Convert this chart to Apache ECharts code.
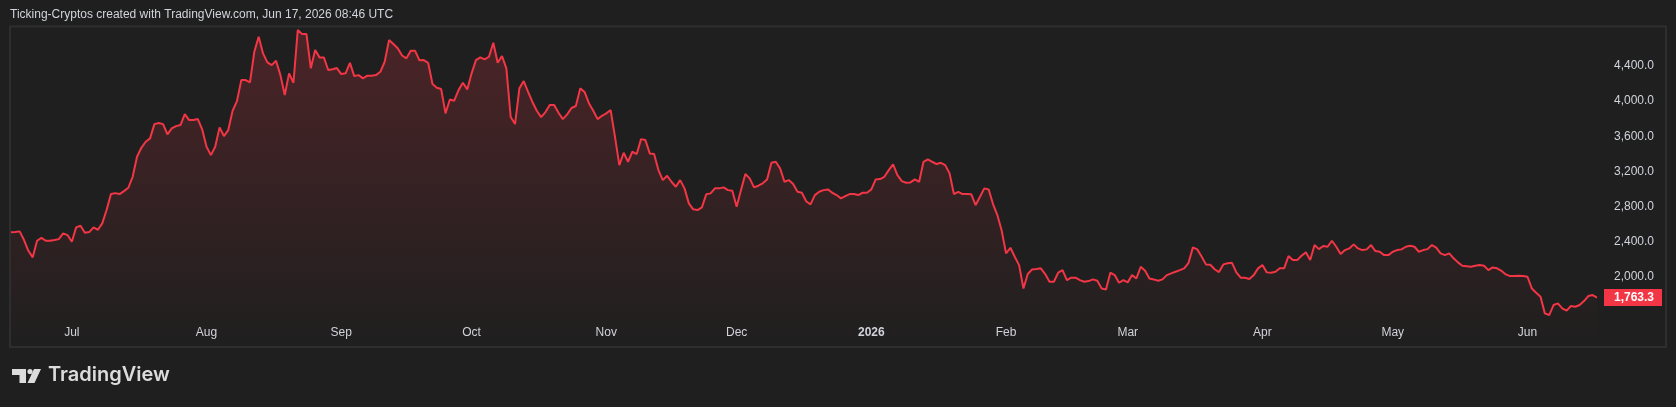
<!DOCTYPE html>
<html>
<head>
<meta charset="utf-8">
<script src="https://cdn.jsdelivr.net/npm/echarts@6/dist/echarts.min.js"></script>
<style>
  html, body { margin: 0; padding: 0; background: #1f1f1f; }
  #chart { width: 1676px; height: 407px; }
</style>
</head>
<body>
<div id="chart"></div>
<script>
// daily closes, Jun 17 2025 -> Jun 17 2026
const START_DATE = "2025-06-17";
const JUN_2025 = [2506, 2510, 2517, 2418, 2296, 2221, 2410, 2443, 2410, 2410, 2418, 2429, 2494, 2475];
const JUL_2025 = [2399, 2563, 2581, 2501, 2509, 2563, 2535, 2608, 2760, 2942, 2953, 2942, 2976, 3014, 3139, 3367,
  3469, 3538, 3576, 3739, 3751, 3739, 3622, 3690, 3716, 3728, 3853, 3785, 3785, 3796, 3679];
const AUG_2025 = [3481, 3386, 3481, 3702, 3603, 3671, 3891, 4001, 4240, 4240, 4214, 4563, 4734, 4544, 4442, 4411,
  4460, 4297, 4070, 4317, 4210, 4810, 4764, 4764, 4374, 4582, 4499, 4499, 4355, 4363, 4377];
const SEP_2025 = [4309, 4317, 4437, 4286, 4297, 4260, 4290, 4290, 4297, 4335, 4449, 4696, 4651, 4602, 4520, 4488,
  4574, 4574, 4465, 4468, 4437, 4195, 4153, 4138, 3861, 4020, 4005, 4126, 4210, 4134];
const OCT_2025 = [4317, 4468, 4499, 4476, 4506, 4665, 4437, 4514, 4374, 3819, 3739, 4146, 4229, 4105, 3991, 3891,
  3819, 3876, 3957, 3957, 3868, 3796, 3850, 3922, 3945, 4146, 4105, 3977, 3891, 3796, 3834];
const NOV_2025 = [3861, 3899, 3594, 3272, 3413, 3310, 3424, 3398, 3568, 3557, 3405, 3398, 3215, 3101, 3151, 3082,
  3025, 3101, 3007, 2836, 2768, 2760, 2790, 2939, 2950, 3007, 3007, 3018, 2987, 2980];
const DEC_2025 = [2797, 2987, 3170, 3121, 3018, 3037, 3064, 3109, 3298, 3310, 3235, 3082, 3101, 3056, 2968, 2957,
  2860, 2825, 2930, 2968, 2987, 2995, 2957, 2931, 2893, 2919, 2942, 2942, 2931, 2957, 2957];
const JAN_2026 = [2995, 3109, 3113, 3139, 3215, 3280, 3158, 3090, 3071, 3075, 3109, 3082, 3310, 3337, 3310, 3284,
  3298, 3272, 3178, 2942, 2968, 2942, 2942, 2939, 2817, 2911, 3007, 2995, 2828, 2703, 2524];
const FEB_2026 = [2267, 2330, 2228, 2133, 1867, 2031, 2084, 2088, 2096, 2031, 1943, 1943, 2046, 2076, 1962, 1989,
  1989, 1962, 1943, 1951, 1970, 1955, 1867, 1856, 2046, 2019, 1932, 1962];
const MAR_2026 = [1936, 2019, 1981, 2114, 2068, 1981, 1970, 1955, 1970, 2019, 2038, 2057, 2076, 2096, 2159, 2335,
  2312, 2230, 2141, 2137, 2086, 2053, 2141, 2153, 2159, 2050, 1989, 1989, 1974, 2019, 2096];
const APR_2026 = [2133, 2050, 2046, 2057, 2096, 2096, 2236, 2190, 2190, 2240, 2278, 2190, 2361, 2315, 2350, 2342,
  2410, 2342, 2259, 2304, 2323, 2369, 2323, 2304, 2312, 2361, 2293, 2285, 2247, 2247];
const MAY_2026 = [2285, 2304, 2312, 2342, 2354, 2342, 2285, 2304, 2315, 2361, 2331, 2267, 2247, 2267, 2210, 2164,
  2125, 2121, 2114, 2125, 2133, 2125, 2076, 2106, 2096, 2068, 2027, 2008, 2008, 2012, 2008];
const JUN_2026 = [2000, 1867, 1818, 1772, 1583, 1564, 1678, 1697, 1640, 1614, 1667, 1659, 1678, 1723, 1780, 1792, 1763.3];

const MONTH_LABELS = ["Jan", "Feb", "Mar", "Apr", "May", "Jun", "Jul", "Aug", "Sep", "Oct", "Nov", "Dec"];
const PRICE_TICKS = [2000, 2400, 2800, 3200, 3600, 4000, 4400];

const prices = [].concat(JUN_2025, JUL_2025, AUG_2025, SEP_2025, OCT_2025, NOV_2025, DEC_2025,
  JAN_2026, FEB_2026, MAR_2026, APR_2026, MAY_2026, JUN_2026);

const dates = [];
const t0 = new Date(START_DATE + "T00:00:00Z");
for (let i = 0; i < prices.length; i++) {
  const d = new Date(t0.getTime() + i * 86400000);
  dates.push(d.toISOString().slice(0, 10));
}
const lastPrice = prices[prices.length - 1];

const fmt = (v) => v.toLocaleString("en-US", { minimumFractionDigits: 1, maximumFractionDigits: 1 });

var myChart = echarts.init(document.getElementById("chart"), null, { renderer: "canvas" });
var option = {
  backgroundColor: "#1f1f1f",
  animation: false,
  textStyle: { fontFamily: "Liberation Sans" },
  grid: { left: 11, right: 79, top: 27, bottom: 60 },
  xAxis: {
    type: "category",
    data: dates,
    boundaryGap: false,
    axisLine: { show: false },
    axisTick: { show: false },
    splitLine: { show: false },
    axisLabel: {
      inside: true,
      margin: 8,
      color: "#d1d4dc",
      fontSize: 12,
      interval: (index, value) => value.endsWith("-01"),
      formatter: (value) => {
        const m = parseInt(value.slice(5, 7), 10);
        return m === 1 ? "{yr|" + value.slice(0, 4) + "}" : MONTH_LABELS[m - 1];
      },
      rich: {
        yr: { fontWeight: "bold", fontSize: 12, color: "#d1d4dc" },
      },
    },
  },
  yAxis: {
    type: "value",
    position: "right",
    min: 1200,
    max: 4845,
    interval: 400,
    axisLine: { show: false },
    axisTick: { show: false },
    splitLine: { show: false },
    axisLabel: {
      margin: 57,
      align: "right",
      color: "#d1d4dc",
      fontSize: 12,
      formatter: (v) => (PRICE_TICKS.indexOf(v) >= 0 ? fmt(v) : ""),
    },
  },
  series: [
    {
      type: "line",
      data: prices,
      symbol: "none",
      lineStyle: { color: "#f23645", width: 2 },
      itemStyle: { color: "#f23645" },
      areaStyle: {
        color: new echarts.graphic.LinearGradient(0, 0, 0, 1, [
          { offset: 0, color: "rgba(242,54,69,0.30)" },
          { offset: 1, color: "rgba(242,54,69,0.0)" },
        ]),
      },
      markLine: {
        silent: true,
        symbol: "none",
        lineStyle: { color: "rgba(0,0,0,0)", width: 0 },
        data: [{ yAxis: lastPrice }],
        label: {
          show: true,
          position: "end",
          distance: 7,
          formatter: () => fmt(lastPrice),
          color: "#ffffff",
          fontSize: 12,
          fontWeight: "bold",
          fontFamily: "Liberation Sans",
          backgroundColor: "#f23645",
          padding: [3, 8, 2, 10],
        },
      },
    },
  ],
  graphic: [
    {
      type: "rect",
      shape: { x: 10, y: 26.5, width: 1656, height: 320.5 },
      style: { fill: "none", stroke: "#2e2e2e", lineWidth: 2 },
      silent: true,
      z: -1,
    },
    {
      type: "text",
      left: 10,
      top: 9,
      style: {
        text: "Ticking-Cryptos created with TradingView.com, Jun 17, 2026 08:46 UTC",
        fill: "#d1d4dc",
        font: "12px 'Liberation Sans'",
      },
    },
    // TradingView logo
    { type: "rect", shape: { x: 12, y: 369, width: 14, height: 6 }, style: { fill: "#dcdcdc" } },
    { type: "rect", shape: { x: 19.5, y: 369, width: 6.5, height: 14 }, style: { fill: "#dcdcdc" } },
    { type: "circle", shape: { cx: 30, cy: 371.5, r: 2.6 }, style: { fill: "#dcdcdc" } },
    {
      type: "polygon",
      shape: { points: [[34, 369], [41, 369], [34.5, 383], [27.5, 383]] },
      style: { fill: "#dcdcdc" },
    },
    {
      type: "text",
      left: 48,
      top: 365,
      style: {
        text: "TradingView",
        fill: "#dcdcdc",
        font: "600 20px Inter",
      },
    },
  ],
};

option && myChart.setOption(option);
</script>
</body>
</html>
